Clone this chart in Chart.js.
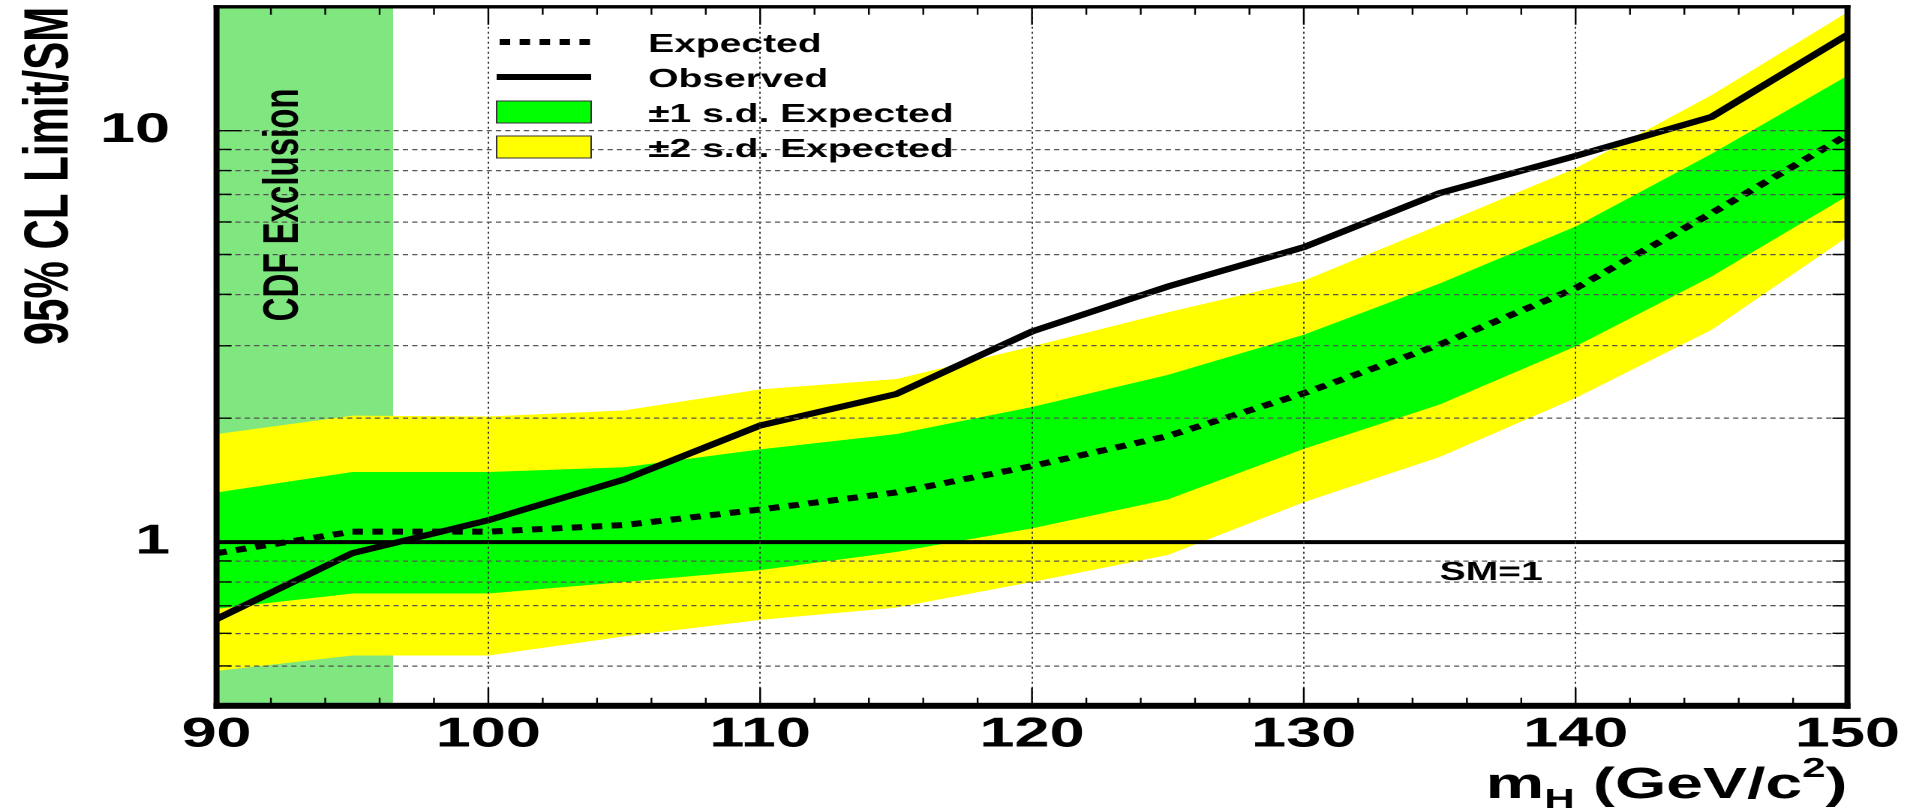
<!DOCTYPE html>
<html>
<head>
<meta charset="utf-8">
<title>95% CL Limit/SM vs m_H</title>
<script src="https://cdn.jsdelivr.net/npm/chart.js@4.4.1/dist/chart.umd.min.js"></script>
<style>
  html, body { margin: 0; padding: 0; background: #fff; }
  #wrap { width: 1907px; height: 809px; overflow: hidden; }
</style>
</head>
<body>
<!-- drawn on a narrower canvas and stretched sideways, like the original ROOT export -->
<div id="wrap"><canvas id="limits" width="1271" height="809" style="width:1907px;height:809px"></canvas></div>
<script>
// Higgs mass points, GeV/c^2
const MASS     = [90, 95, 100, 105, 110, 115, 120, 125, 130, 135, 140, 145, 150];
// 95% CL limit / SM
const OBSERVED = [0.65, 0.94, 1.13, 1.42, 1.92, 2.29, 3.25, 4.18, 5.21, 7.05, 8.68, 10.8, 17.1];
const EXPECTED = [0.94, 1.06, 1.06, 1.10, 1.20, 1.32, 1.53, 1.81, 2.30, 3.02, 4.14, 6.30, 9.76];
const SD1_UP   = [1.32, 1.48, 1.48, 1.52, 1.68, 1.83, 2.13, 2.55, 3.19, 4.25, 5.85, 8.78, 13.6];
const SD1_DOWN = [0.688, 0.75, 0.75, 0.80, 0.855, 0.946, 1.08, 1.27, 1.685, 2.16, 2.99, 4.42, 6.94];
const SD2_UP   = [1.83, 2.03, 2.02, 2.09, 2.35, 2.49, 2.99, 3.62, 4.32, 5.90, 8.10, 12.2, 19.4];
const SD2_DOWN = [0.486, 0.53, 0.53, 0.59, 0.647, 0.693, 0.80, 0.93, 1.25, 1.61, 2.24, 3.28, 5.52];

const CDF_EXCLUSION = [90, 96.5];   // excluded mass window
const SM_RATIO = 1;

const X_RANGE  = [90, 150];
const Y_RANGE  = [0.4, 20];
const X_TICKS  = [90, 100, 110, 120, 130, 140, 150];
const Y_TICKS  = [0.5, 0.6, 0.7, 0.8, 0.9, 1, 2, 3, 4, 5, 6, 7, 8, 9, 10];
const Y_LABELS = [1, 10];

const FONT = '"Liberation Sans", Arial, Helvetica, sans-serif';
Chart.defaults.font.family = FONT;
Chart.defaults.color = '#000';

const pts = ys => MASS.map((m, i) => ({ x: m, y: ys[i] }));

function band(label, ys, color, fill) {
  return {
    label, data: pts(ys), fill,
    backgroundColor: color,
    borderColor: 'rgba(0,0,0,0)',
    borderWidth: 0,
    pointRadius: 0,
    tension: 0,
  };
}

// dataset 0 is drawn on top, the last one at the bottom
const datasets = [
  { label: 'Observed', data: pts(OBSERVED), borderColor: '#000', borderWidth: 6, pointRadius: 0, fill: false },
  { label: 'Expected', data: pts(EXPECTED), borderColor: '#000', borderWidth: 6, borderDash: [7, 6.3], pointRadius: 0, fill: false },
  { label: 'SM', data: X_RANGE.map(x => ({ x, y: SM_RATIO })), borderColor: '#000', borderWidth: 4, pointRadius: 0, fill: false },
  band('\u00b11 s.d. Expected', SD1_UP, '#00ff00', '+1'),
  band('', SD1_DOWN, '#00ff00', false),
  band('\u00b12 s.d. Expected', SD2_UP, '#ffff00', '+1'),
  band('', SD2_DOWN, '#ffff00', false),
  { label: 'CDF Exclusion', data: CDF_EXCLUSION.map(x => ({ x, y: Y_RANGE[1] })), fill: 'start',
    backgroundColor: '#80e680', borderColor: 'rgba(0,0,0,0)', borderWidth: 0, pointRadius: 0 },
];

// legend rows: dataset index, sample kind
const LEGEND_ROWS = [[1, 'line'], [0, 'line'], [3, 'box'], [5, 'box']];

const legendBox = {
  id: 'legendBox',
  afterDraw(chart) {
    const { ctx } = chart;
    const x0 = 331, x1 = 394, tx = 432;
    ctx.save();
    LEGEND_ROWS.forEach(([idx, kind], row) => {
      const ds = chart.data.datasets[idx];
      const cy = 42 + row * 35;
      if (kind === 'line') {
        ctx.strokeStyle = ds.borderColor;
        ctx.lineWidth = ds.borderWidth;
        ctx.setLineDash(ds.borderDash || []);
        ctx.beginPath();
        ctx.moveTo(ds.borderDash ? x0 + 2 : x0, cy);
        ctx.lineTo(x1, cy);
        ctx.stroke();
        ctx.setLineDash([]);
      } else {
        ctx.fillStyle = ds.backgroundColor;
        ctx.fillRect(x0, cy - 11, x1 - x0, 22);
        ctx.strokeStyle = '#333';
        ctx.lineWidth = 1;
        ctx.strokeRect(x0, cy - 11, x1 - x0, 22);
      }
      ctx.fillStyle = '#000';
      ctx.font = `bold 26px ${FONT}`;
      ctx.textBaseline = 'alphabetic';
      ctx.fillText(ds.label, tx, cy + 10);
    });
    ctx.restore();
  }
};

const notes = {
  id: 'notes',
  afterDraw(chart) {
    const { ctx, chartArea: a, scales: { x, y } } = chart;
    ctx.save();
    ctx.fillStyle = '#000';

    // label inside the excluded window
    ctx.save();
    ctx.translate(x.getPixelForValue(93), y.getPixelForValue(6.6));
    ctx.rotate(-Math.PI / 2);
    ctx.font = `bold 33px ${FONT}`;
    ctx.textAlign = 'center';
    ctx.fillText('CDF Exclusion', 0, 0);
    ctx.restore();

    ctx.font = `bold 26px ${FONT}`;
    ctx.fillText('SM=1', x.getPixelForValue(135), y.getPixelForValue(SM_RATIO) + 38);

    // x title, right aligned: m_H (GeV/c^2)
    const parts = [
      ['m', 44, 0], ['H', 28, 10], [' (GeV/c', 44, 0], ['2', 28, -21], [')', 44, 0],
    ];
    let w = 0;
    parts.forEach(([t, s]) => { ctx.font = `bold ${s}px ${FONT}`; w += ctx.measureText(t).width; });
    let px = a.right - w;
    const base = 798;
    parts.forEach(([t, s, dy]) => {
      ctx.font = `bold ${s}px ${FONT}`;
      ctx.fillText(t, px, base + dy);
      px += ctx.measureText(t).width;
    });
    ctx.restore();
  }
};

// heavy frame with inward ticks on all four sides
const frame = {
  id: 'frame',
  afterDraw(chart) {
    const { ctx, chartArea: a, scales: { x, y } } = chart;
    ctx.save();
    ctx.strokeStyle = '#000';
    ctx.lineWidth = 1.2;
    ctx.beginPath();
    for (let m = X_RANGE[0]; m <= X_RANGE[1]; m += 2) {
      const p = x.getPixelForValue(m);
      const len = X_TICKS.includes(m) ? 18 : 8;
      ctx.moveTo(p, a.bottom); ctx.lineTo(p, a.bottom - len);
      ctx.moveTo(p, a.top);    ctx.lineTo(p, a.top + len);
    }
    ctx.stroke();

    ctx.lineWidth = 1.4;
    ctx.beginPath();
    Y_TICKS.forEach(v => {
      const p = y.getPixelForValue(v);
      const len = Y_LABELS.includes(v) ? 17 : 10;
      ctx.moveTo(a.left, p);  ctx.lineTo(a.left + len, p);
      ctx.moveTo(a.right, p); ctx.lineTo(a.right - len, p);
    });
    ctx.stroke();

    ctx.fillStyle = '#000';
    ctx.fillRect(a.left - 2, a.top - 1.7, a.width + 4, 3.4);
    ctx.fillRect(a.left - 2, a.bottom - 3, a.width + 4, 6);
    ctx.fillRect(a.left - 2, a.top - 1.7, 4, a.height + 4.7);
    ctx.fillRect(a.right - 2, a.top - 1.7, 4, a.height + 4.7);
    ctx.restore();
  }
};

new Chart(document.getElementById('limits'), {
  type: 'line',
  data: { datasets },
  plugins: [legendBox, notes, frame],
  options: {
    responsive: false,
    devicePixelRatio: 2,
    animation: false,
    events: [],
    layout: { padding: { top: 6.8, right: 39.7, bottom: 0, left: 0 } },
    elements: { line: { tension: 0 } },
    plugins: {
      legend: { display: false },
      tooltip: { enabled: false },
      filler: { propagate: false },
    },
    scales: {
      x: {
        type: 'linear',
        min: X_RANGE[0], max: X_RANGE[1],
        afterBuildTicks: s => { s.ticks = X_TICKS.map(value => ({ value })); },
        afterFit: s => { s.height = 103.2; s.paddingLeft = 0; s.paddingRight = 0; },
        ticks: {
          autoSkip: false, maxRotation: 0, padding: 4, color: '#000',
          font: { size: 42, weight: 'bold' },
          callback: v => String(v),
        },
        grid: {
          z: 1, drawTicks: false, lineWidth: 1,
          color: c => (c.tick && (c.tick.value === X_RANGE[0] || c.tick.value === X_RANGE[1])) ? 'rgba(0,0,0,0)' : '#333',
        },
        border: { display: false, dash: [2, 3] },
      },
      y: {
        type: 'logarithmic',
        min: Y_RANGE[0], max: Y_RANGE[1],
        afterBuildTicks: s => { s.ticks = Y_TICKS.map(value => ({ value })); },
        afterFit: s => { s.width = 144.3; s.paddingTop = 0; s.paddingBottom = 0; },
        ticks: {
          autoSkip: false, padding: 31, color: '#000',
          font: { size: 42, weight: 'bold' },
          callback: v => Y_LABELS.includes(v) ? String(v) : '',
        },
        grid: {
          z: 1, drawTicks: false, lineWidth: 1.2,
          color: c => (c.tick && c.tick.value === SM_RATIO) ? 'rgba(0,0,0,0)' : '#555',
        },
        border: { display: false, dash: [3.5, 2.7] },
        title: {
          display: true, text: '95% CL Limit/SM', align: 'end', color: '#000',
          font: { size: 42, weight: 'bold', lineHeight: 1.2 },
          padding: { top: 8, bottom: 0 },
        },
      },
    },
  },
});
</script>
</body>
</html>
